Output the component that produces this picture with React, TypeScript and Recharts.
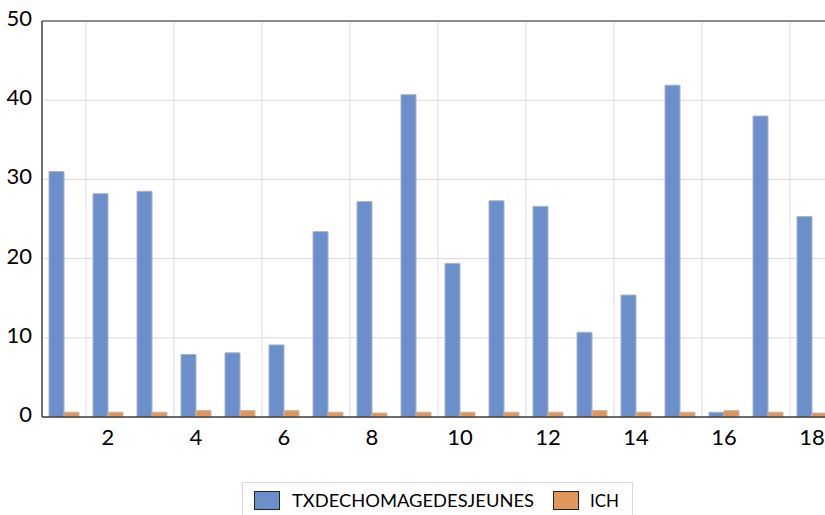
import React from 'react';
import { BarChart, Bar, XAxis, YAxis, CartesianGrid, ReferenceLine, Legend } from 'recharts';

const categories = [1, 2, 3, 4, 5, 6, 7, 8, 9, 10, 11, 12, 13, 14, 15, 16, 17, 18];
const txChomage = [31.0, 28.2, 28.5, 7.9, 8.1, 9.1, 23.4, 27.2, 40.7, 19.4, 27.3, 26.6, 10.7, 15.4, 41.9, 0.6, 38.0, 25.3];
const ich = [0.6, 0.6, 0.6, 0.8, 0.8, 0.8, 0.6, 0.5, 0.6, 0.6, 0.6, 0.6, 0.8, 0.6, 0.6, 0.8, 0.6, 0.5];
const yTicks = [0, 10, 20, 30, 40, 50];
const gridAfter = [1, 3, 5, 7, 9, 11, 13, 15, 17];

const BLUE = '#6b8fca';
const ORANGE = '#e0955a';
const FONT = 'Lato, "DejaVu Sans", sans-serif';

const data = categories.map((c, i) => ({ x: c, TXDECHOMAGEDESJEUNES: txChomage[i], ICH: ich[i] }));

const YTick = (props: any) => {
  const { x, y, payload } = props;
  return (
    <text x={x} y={y - 3} dy="0.36em" textAnchor="end" fontSize={22} fontFamily={FONT} fill="#000">
      {payload.value}
    </text>
  );
};

const XTick = (props: any) => {
  const { x, y, payload } = props;
  if (payload.value % 2 !== 0) return null;
  return (
    <text x={x} y={y + 20} textAnchor="middle" fontSize={22} fontFamily={FONT} fill="#000">
      {payload.value}
    </text>
  );
};

const LegendBox = () => (
  <svg width={392} height={40} style={{ display: 'block' }}>
    <rect x={0.5} y={0.5} width={390} height={45} fill="#fff" stroke="#d9d9d9" />
    <rect x={12.5} y={9.5} width={25} height={18} fill={BLUE} stroke="#222" />
    <text x={50} y={25} fontSize={17} fontFamily={FONT} fill="#000" textLength={242} lengthAdjust="spacingAndGlyphs">
      TXDECHOMAGEDESJEUNES
    </text>
    <rect x={311.5} y={9.5} width={25} height={18} fill={ORANGE} stroke="#222" />
    <text x={348} y={25} fontSize={17} fontFamily={FONT} fill="#000" textLength={29} lengthAdjust="spacingAndGlyphs">
      ICH
    </text>
  </svg>
);

export default function App() {
  return (
    <div style={{ position: 'absolute', left: 0, top: 0, width: 825, height: 515, overflow: 'hidden', background: '#fff' }}>
      <BarChart
        width={850}
        height={515}
        data={data}
        margin={{ top: 21, right: 16, left: 0, bottom: 68 }}
        barSize={15}
        barGap={0}
      >
        <CartesianGrid vertical={false} stroke="#d9d9d9" />
        {gridAfter.map(g => (
          <ReferenceLine key={g} x={g} position="end" stroke="#d9d9d9" strokeWidth={1} />
        ))}
        <XAxis
          dataKey="x"
          height={30}
          interval={0}
          tickLine={false}
          axisLine={{ stroke: '#404040', strokeWidth: 1.5 }}
          tick={<XTick />}
        />
        <YAxis
          width={42}
          domain={[0, 50]}
          ticks={yTicks}
          tickLine={false}
          tickMargin={4}
          axisLine={{ stroke: '#404040', strokeWidth: 1.5 }}
          tick={<YTick />}
        />
        <ReferenceLine y={50} stroke="#8c8c8c" strokeWidth={2} />
        <Bar dataKey="TXDECHOMAGEDESJEUNES" fill={BLUE} stroke="#aab4c4" strokeWidth={1} isAnimationActive={false} />
        <Bar dataKey="ICH" fill={ORANGE} stroke="#c8b4a4" strokeWidth={1} isAnimationActive={false} />
        <Legend
          layout="horizontal"
          verticalAlign="middle"
          align="center"
          content={<LegendBox />}
          wrapperStyle={{ position: 'absolute', left: 242, top: 482, width: 392, height: 40 }}
        />
      </BarChart>
    </div>
  );
}
